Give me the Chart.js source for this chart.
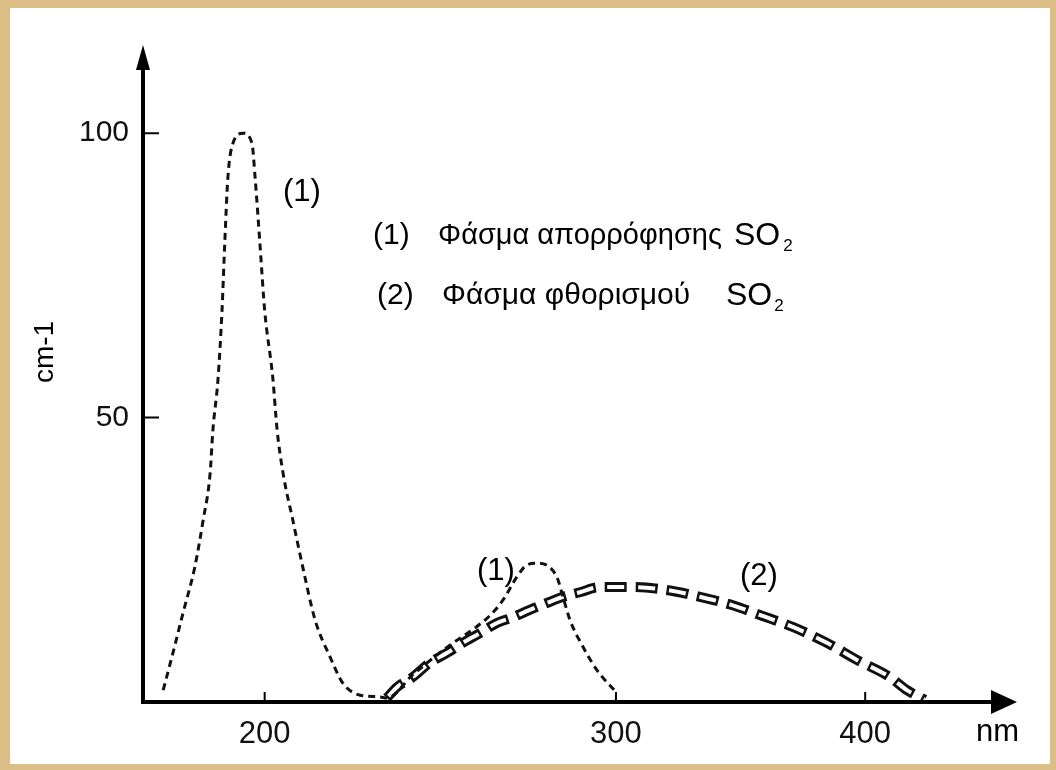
<!DOCTYPE html>
<html>
<head>
<meta charset="utf-8">
<script src="https://cdn.jsdelivr.net/npm/chart.js@4.4.0/dist/chart.umd.min.js"></script>
<style>
    html, body { margin: 0; padding: 0; }
    body { width: 1056px; height: 770px; background: #dcbf86; position: relative; overflow: hidden; }
    #paper { position: absolute; left: 10px; top: 8px; right: 6px; bottom: 6px; background: #fff; }
    #wrap { position: absolute; left: 0; top: 0; width: 1056px; height: 770px; }
</style>
</head>
<body>
<div id="paper"></div>
<div id="wrap"><canvas id="so2Chart"></canvas></div>
<script>
// absorption spectrum (1), nm / cm-1
const absNm = [177.9, 179.9, 182.0, 184.5, 186.3, 187.8, 188.4, 189.5, 190.4, 191.0, 191.7, 192.8, 195.1,
    197.1, 197.8, 198.9, 200.0, 201.9, 202.9, 204.3, 206.6, 209.0, 212.0, 215.7, 218.9, 223.3, 228.5, 230.3,
    237.3, 246.8, 254.9, 259.4, 263.3, 267.6, 270.7, 273.8, 280.2, 282.2, 284.5, 288.8, 293.5, 300.3];
const absVal = [2.1, 8.6, 15.6, 23.7, 32.0, 40.2, 47.8, 56.6, 68.9, 80.7, 92.3, 98.2, 100,
    98.2, 92.3, 80.7, 68.9, 56.9, 47.8, 40.2, 32.0, 23.7, 14.4, 7.9, 3.3, 1.2, 0.9, 0.7,
    4.8, 9.6, 13.0, 15.2, 17.9, 22.0, 24.1, 24.4, 22.0, 18.5, 14.4, 9.7, 5.6, 1.6];

// fluorescence spectrum (2)
const fluNm = [230.3, 233.0, 237.3, 242.0, 246.8, 251.4, 256.4, 261.5, 266.4, 271.6, 277.0, 282.2, 287.8,
    294.5, 305.9, 318.1, 330.5, 343.3, 354.2, 367.9, 382.7, 396.2, 411.5, 419.7, 428.5];
const fluVal = [0.7, 2.6, 4.4, 6.9, 8.6, 10.4, 12.1, 13.9, 14.9, 16.2, 17.4, 18.5, 19.3,
    20.2, 20.2, 19.7, 18.5, 17.0, 15.3, 13.2, 10.4, 7.4, 4.4, 2.1, 0.4];

const xTicks = [200, 300, 400];
const yTicks = [50, 100];

const FONT = 'Liberation Sans, Arial, sans-serif';

function toPoints(xs, ys) {
    return xs.map((v, i) => ({ x: v, y: ys[i] }));
}

// axes with arrows, inward tick marks and the hand-lettered texts
const sketchPlugin = {
    id: 'sketch',
    afterDraw(chart) {
        const { ctx, chartArea: a, scales: { x, y } } = chart;
        ctx.save();
        ctx.strokeStyle = '#000';
        ctx.fillStyle = '#000';

        ctx.lineWidth = 4;
        ctx.beginPath();
        ctx.moveTo(a.left, a.bottom + 2);
        ctx.lineTo(a.left, a.top + 20);
        ctx.moveTo(a.left - 2, a.bottom);
        ctx.lineTo(a.right - 20, a.bottom);
        ctx.stroke();

        ctx.beginPath();
        ctx.moveTo(a.left, a.top);
        ctx.lineTo(a.left - 7, a.top + 25);
        ctx.lineTo(a.left + 7, a.top + 25);
        ctx.closePath();
        ctx.moveTo(a.right, a.bottom);
        ctx.lineTo(a.right - 26, a.bottom - 12);
        ctx.lineTo(a.right - 26, a.bottom + 12);
        ctx.closePath();
        ctx.fill();

        ctx.lineWidth = 2;
        ctx.beginPath();
        yTicks.forEach(v => {
            const py = y.getPixelForValue(v);
            ctx.moveTo(a.left, py);
            ctx.lineTo(a.left + 16, py);
        });
        xTicks.forEach(v => {
            const px = x.getPixelForValue(v);
            ctx.moveTo(px, a.bottom);
            ctx.lineTo(px, a.bottom - 10);
        });
        ctx.stroke();

        ctx.textBaseline = 'alphabetic';
        ctx.textAlign = 'left';

        // y title
        ctx.save();
        ctx.translate(53, 352);
        ctx.rotate(-Math.PI / 2);
        ctx.textAlign = 'center';
        ctx.font = '28px ' + FONT;
        ctx.fillText('cm-1', 0, 0);
        ctx.restore();

        ctx.font = '31px ' + FONT;
        ctx.fillText('nm', 976, 741);

        ctx.fillText('(1)', 283, 201);
        ctx.fillText('(1)', 477, 580);
        ctx.fillText('(2)', 740, 585);

        // legend
        ctx.font = '30px ' + FONT;
        ctx.fillText('(1)', 373, 244);
        ctx.fillText('(2)', 377, 304);
        ctx.fillText('Φάσμα φθορισμού', 442, 304);
        ctx.font = '29px ' + FONT;
        ctx.fillText('Φάσμα απορρόφησης', 438, 244);
        ctx.font = '32px ' + FONT;
        ctx.fillText('SO', 734, 245);
        const w2 = ctx.measureText('SO').width;
        ctx.fillText('SO', 726, 305);
        ctx.font = '17px ' + FONT;
        ctx.fillText('2', 734 + w2 + 3, 251);
        ctx.fillText('2', 726 + w2 + 2, 311);

        ctx.restore();
    }
};

const ctx = document.getElementById('so2Chart').getContext('2d');

new Chart(ctx, {
    type: 'line',
    data: {
        datasets: [
            {
                label: 'Φάσμα απορρόφησης SO2',
                data: toPoints(absNm, absVal),
                borderColor: '#111',
                borderWidth: 3,
                borderDash: [7, 5],
                pointRadius: 0,
                cubicInterpolationMode: 'monotone',
                order: 0,
            },
            {
                label: 'Φάσμα φθορισμού SO2',
                data: toPoints(fluNm, fluVal),
                borderColor: '#fff',
                borderWidth: 4,
                borderDash: [17, 14],
                borderDashOffset: -2.5,
                pointRadius: 0,
                cubicInterpolationMode: 'monotone',
                order: 1,
            },
            {
                label: 'Φάσμα φθορισμού SO2 (outline)',
                data: toPoints(fluNm, fluVal),
                borderColor: '#111',
                borderWidth: 10,
                borderDash: [22, 9],
                pointRadius: 0,
                cubicInterpolationMode: 'monotone',
                order: 2,
            },
        ],
    },
    options: {
        responsive: true,
        maintainAspectRatio: false,
        animation: false,
        layout: { padding: { top: 45, right: 39, left: 0, bottom: 0 } },
        plugins: {
            legend: { display: false },
            tooltip: { enabled: false },
        },
        scales: {
            x: {
                type: 'logarithmic',
                bounds: 'data',
                min: 173.8,
                max: 476.6,
                afterBuildTicks: s => { s.ticks = xTicks.map(v => ({ value: v })); },
                afterFit: s => { s.height = 68; },
                grid: { display: false, drawTicks: false },
                border: { display: false },
                ticks: {
                    padding: 14,
                    color: '#111',
                    autoSkip: false,
                    maxRotation: 0,
                    font: { family: FONT, size: 31 },
                    callback: v => String(v),
                },
            },
            y: {
                bounds: 'data',
                min: 0,
                max: 115.5,
                afterBuildTicks: s => { s.ticks = yTicks.map(v => ({ value: v })); },
                afterFit: s => { s.width = 143; },
                grid: { display: false, drawTicks: false },
                border: { display: false },
                ticks: {
                    padding: 14,
                    color: '#111',
                    font: { family: FONT, size: 30 },
                    callback: v => String(v),
                },
            },
        },
    },
    plugins: [sketchPlugin],
});
</script>
</body>
</html>
